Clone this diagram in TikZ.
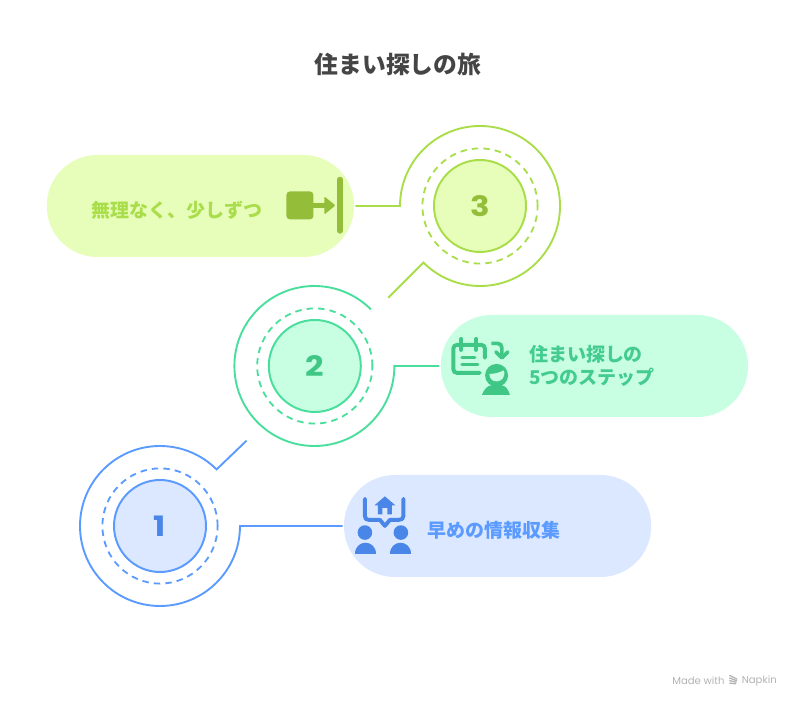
\documentclass[tikz,border=0pt]{standalone}
\usepackage{fontspec}
\setmainfont{Noto Sans CJK JP}
\newfontfamily\numfont[FakeStretch=1.15]{Poppins}
\newfontfamily\markfont{Poppins}
\definecolor{limefill}{HTML}{E7FDBA}
\definecolor{limeline}{HTML}{A9DE4A}
\definecolor{limedark}{HTML}{94BE3A}
\definecolor{mintfill}{HTML}{C8FFE3}
\definecolor{mintline}{HTML}{4ADE9C}
\definecolor{mintdark}{HTML}{40C785}
\definecolor{bluefill}{HTML}{DCE8FF}
\definecolor{blueline}{HTML}{5B9BFF}
\definecolor{bluedark}{HTML}{4A86E8}
\tikzset{
  pill/.style={rectangle, rounded corners=36pt, minimum width=7.68cm, minimum height=2.55cm, outer sep=1pt, fill=#1},
  disc/.style={circle, minimum size=2.3cm, inner sep=0pt, line width=1.4pt, font=\numfont\bfseries\fontsize{20}{20}\selectfont},
  label/.style={font=\bfseries\fontsize{13.5}{16.4}\selectfont, align=left, inner sep=0pt},
  wire/.style={line width=1.35pt, line join=miter},
  ring/.style={line width=1.3pt, dash pattern=on 4.6pt off 3.6pt},
}
\begin{document}
\begin{tikzpicture}
\useasboundingbox (0,0) rectangle (20,17.7);

\node [font=\bfseries\fontsize{16.9}{16.9}\selectfont, text=black!73] (title) at (9.95, 16.1) {住まい探しの旅};

%%%%%%%%%%%%%%%%%%%%%%%%%%%%%%%%%%%%%%%%

\node [pill=limefill] (pillC) at (5.01, 12.55) {};
\node [pill=mintfill] (pillB) at (14.86, 8.55) {};
\node [pill=bluefill] (pillA) at (12.44, 4.55) {};

\node [label, text=limeline] (textC) at (4.43, 12.45) {無理なく、少しずつ};
\node [label, text=mintline!92!black, anchor=west] (textB) at (13.22, 8.55) {住まい探しの\\5つのステップ};
\node [label, text=blueline, anchor=west] (textA) at (10.69, 4.45) {早めの情報収集};

%%%%%%%%%%%%%%%%%%%%%%%%%%%%%%%%%%%%%%%%

\node [disc, draw=limeline, fill=limefill, text=limedark] (discC) at (12.0, 12.55) {\raisebox{-1pt}{3}};
\node [disc, draw=mintline, fill=mintfill, text=mintdark] (discB) at (7.87, 8.55) {\raisebox{-1pt}{2}};
\node [disc, draw=blueline, fill=bluefill, text=bluedark] (discA) at (4.0, 4.55) {\raisebox{-1pt}{1}};

\draw [ring, draw=limeline] (discC) circle (1.44);
\draw [ring, draw=mintline] (discB) circle (1.44);
\draw [ring, draw=blueline] (discA) circle (1.44);

\draw [wire, draw=limeline]
     (pillC.east)
  -- ++(1.115, 0) coordinate (bendC)
  arc [start angle=180, end angle=-135, radius=2]
  -- ++(-0.88, -0.88) coordinate (endC);
\draw [wire, draw=mintline]
     (pillB.west)
  -- ++(-1.125, 0) coordinate (bendB)
  arc [start angle=0, end angle=-315, radius=2] coordinate (endB);
\draw [wire, draw=blueline]
     (pillA.west)
  -- ++(-2.565, 0) coordinate (bendA)
  arc [start angle=0, end angle=-315, radius=2]
  -- ++(0.75, 0.72) coordinate (endA);

%%%%%%%%%%%%%%%%%%%%%%%%%%%%%%%%%%%%%%%%

\begin{scope}[shift={(0,17.7)}, x=0.025cm, y=-0.025cm]
  % step 3
  \fill [limedark, rounded corners=2.5pt] (286.5,191.5) rectangle (313.5,219.5);
  \draw [limedark, line width=3.6pt] (313,205.5) -- (327,205.5);
  \fill [limedark, rounded corners=0.7pt] (324.5,196.5) -- (335.5,205.5) -- (324.5,214.5) -- cycle;
  \draw [limedark, line width=3.8pt, line cap=round] (340,179.5) -- (340,231);
  % step 2
  \draw [mintdark, line width=2.8pt, line cap=round, rounded corners=2.5pt]
       (480,373) -- (453.5,373) -- (453.5,345) -- (485,345) -- (485,358);
  \draw [mintdark, line width=2.8pt, line cap=round] (461.5,339) -- (461.5,350);
  \draw [mintdark, line width=2.8pt, line cap=round] (476.5,339) -- (476.5,350);
  \draw [mintdark, line width=2.2pt, line cap=round] (462,358) -- (475,358);
  \draw [mintdark, line width=2.2pt, line cap=round] (462,365) -- (478,365);
  \draw [mintdark, line width=2.6pt, rounded corners=3pt] (491.5,343.5) -- (502,343.5) -- (502,357);
  \draw [mintdark, line width=2.6pt, line cap=round, line join=round] (496,352) -- (502,358) -- (508,352);
  \fill [mintdark] (496.7,375.5) circle (11.5);
  \fill [mintfill] (489.5,374) .. controls (496,374) and (499,372.5) .. (504,370.5)
    .. controls (506,378) and (501,381.5) .. (496.7,381.5) .. controls (492,381.5) and (489.5,378) .. (489.5,374) -- cycle;
  \fill [mintdark] (482,395) .. controls (485,388) and (488,386) .. (491,385.5) -- (502,385.5)
    .. controls (505,386) and (508,388) .. (510,395) -- cycle;
  % step 1
  \draw [bluedark, line width=2.8pt, line cap=round, line join=round]
       (365,499) -- (365,516) .. controls (365,519) and (366,520) .. (369,520) -- (380,520) -- (385,526) -- (390,520) -- (399,520)
       .. controls (402,520) and (403.5,519) .. (403.5,516) -- (403.5,499);
  \fill [bluedark] (385,496.5) -- (395.5,505.5) -- (392,505.5) -- (392,514.5) -- (387.5,514.5) -- (387.5,508) -- (382.5,508)
       -- (382.5,514.5) -- (378,514.5) -- (378,505.5) -- (374.5,505.5) -- cycle;
  \fill [bluedark] (365,532.7) circle (7.3);
  \fill [bluedark] (401,532.7) circle (7.3);
  \fill [bluedark] (355,554.5) .. controls (355,539) and (376,539) .. (376,554.5) -- cycle;
  \fill [bluedark] (390.5,554.5) .. controls (390.5,539) and (411.5,539) .. (411.5,554.5) -- cycle;
  % brand mark
  \foreach \i in {0,1,2,3}
    \draw [black!30, line width=0.9pt] (729.5,675.5+\i*2.6) -- (737.5-\i*0.4,679.5+\i*1.5);
\end{scope}

\node [font=\markfont\fontsize{7.2}{7.2}\selectfont, text=black!30, anchor=east] (madewith) at (18.24, 0.68) {Made with};
\node [font=\markfont\fontsize{7.2}{7.2}\selectfont, text=black!30, anchor=west] (napkin) at (18.42, 0.68) {Napkin};
\end{tikzpicture}
\end{document}
